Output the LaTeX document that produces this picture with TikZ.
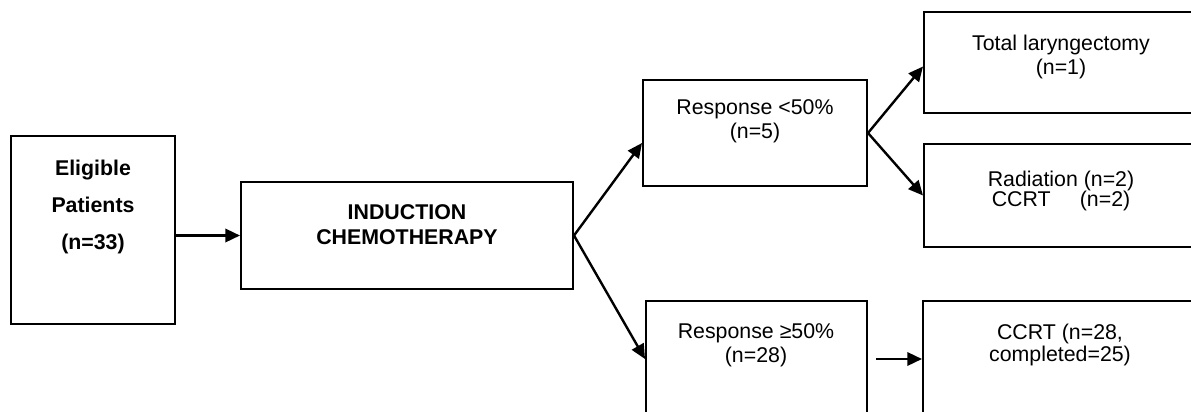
\documentclass[tikz,border=0pt]{standalone}
\usepackage{fontspec}
\setmainfont{Liberation Sans}
\usetikzlibrary{arrows.meta,calc}
\begin{document}
\begin{tikzpicture}[x=0.75pt,y=-0.75pt,
  box/.style 2 args={draw, line width=1.5pt, inner sep=0pt,
    minimum width=#1*0.75pt, minimum height=#2*0.75pt},
  txt/.style={inner sep=0pt, align=center, font=\fontsize{16}{#1}\selectfont},
  btxt/.style={inner sep=0pt, align=center, font=\fontsize{16}{#1}\selectfont\bfseries},
  arr/.style={line width=1.8pt, -{Triangle[length=11pt,width=10pt]}}]
\clip (0,0) rectangle (1191,411);
% boxes
\node[box={164}{188}] (elig) at (93,230) {};
\node[box={332}{107}] (ind) at (407,235.5) {};
\node[box={224}{106}] (r1) at (755,133) {};
\node[box={221}{116}] (r2) at (756.5,359) {};
\node[box={274}{101}] (tl) at (1061,62.5) {};
\node[box={274}{103}] (rad) at (1061,195.5) {};
\node[box={274}{116}] (ccrt) at (1060,359) {};
% texts
\node[btxt=27.75pt] (eligt) at (93,207) {Eligible\\Patients\\(n=33)};
\node[btxt=18.75pt] (indt) at (407,225) {INDUCTION\\CHEMOTHERAPY};
\node[txt=18pt] (r1t) at (755,121) {Response <50\%\\(n=5)};
\node[txt=18pt] (r2t) at (756,345) {Response ≥50\%\\(n=28)};
\node[txt=18pt] (tlt) at (1061,57) {Total laryngectomy\\(n=1)};
\node[txt=15pt] (radt) at (1061,191) {Radiation (n=2)\\CCRT\hspace{1.37em}(n=2)};
\node[txt=17pt] (ccrtt) at (1060,345) {CCRT (n=28,\\completed=25)};
% connectors
\draw[arr] (elig.east |- ind.west) -- (ind.west);
\draw[arr] (ind.east) -- ($(r1.west)+(0,10)$);
\draw[arr] (ind.east) -- (r2.west);
\draw[arr] (r1.east) -- ($(tl.west)+(0,4)$);
\draw[arr] (r1.east) -- (rad.west);
\draw[arr] ($(r2.east)+(8,0)$) -- (r2.east -| ccrt.west);
\end{tikzpicture}
\end{document}
